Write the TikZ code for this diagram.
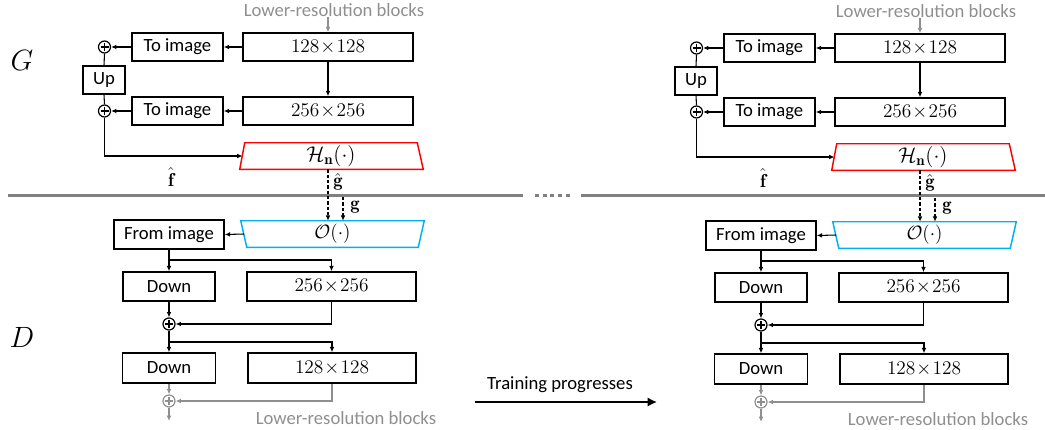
\RequirePackage{fix-cm}
\documentclass[tikz,border=0pt]{standalone}
\usepackage{fontspec}
\newfontfamily\calib{Carlito}
\usetikzlibrary{arrows.meta,calc}
\definecolor{hred}{HTML}{FF0000}
\definecolor{oblue}{HTML}{00B0F0}
\definecolor{lgray}{HTML}{8F8F8F}
\definecolor{sgray}{HTML}{808080}
\newcommand\dimtxt[2]{$#1\!\times\!#2$}
\tikzset{
  bx/.style 2 args={draw, line width=1.1pt, inner sep=0pt, minimum width=#1*0.75pt, minimum height=#2*0.75pt},
  mth/.style={font=\fontsize{14.5}{17}\selectfont},
  pl/.style={circle, draw, line width=0.9pt, minimum size=12*0.75pt, inner sep=0pt,
    path picture={\draw[line width=0.8pt] ($(path picture bounding box.center)+(-3pt,0)$) -- ($(path picture bounding box.center)+(3pt,0)$)
      ($(path picture bounding box.center)+(0,-3pt)$) -- ($(path picture bounding box.center)+(0,3pt)$);}},
  gpl/.style={circle, draw=lgray, line width=0.9pt, minimum size=12*0.75pt, inner sep=0pt,
    path picture={\draw[lgray, line width=0.8pt] ($(path picture bounding box.center)+(-3pt,0)$) -- ($(path picture bounding box.center)+(3pt,0)$)
      ($(path picture bounding box.center)+(0,-3pt)$) -- ($(path picture bounding box.center)+(0,3pt)$);}},
  ar/.style={-{Latex[length=4pt,width=3.5pt]}, line width=0.8pt},
  ln/.style={line width=0.8pt},
  gar/.style={ar, draw=lgray},
  dar/.style={ar, dash pattern=on 2.5pt off 1.5pt},
  gtext/.style={text=lgray, inner sep=0pt},
  sep/.style={draw=sgray, line width=1.6pt},
  lbl/.style={inner sep=0pt},
}
\begin{document}
\begin{tikzpicture}[x=0.75pt, y=-0.75pt, font=\calib\fontsize{14}{16}\selectfont]
\useasboundingbox (0,0) rectangle (1045,429);
% separator
\coordinate (s1) at (8,195.5);
\coordinate (s2) at (523,195.5);
\coordinate (s3) at (535,195.5);
\coordinate (s4) at (572,195.5);
\coordinate (s5) at (581,195.5);
\coordinate (s6) at (1045,195.5);
\draw[sep] (s1) -- (s2);
\draw[sep, dash pattern=on 3pt off 2.8pt] (s3) -- (s4);
\draw[sep] (s5) -- (s6);
% labels G, D
\node[lbl] (G) at (22,60) {\fontsize{22}{24}\selectfont $G$};
\node[lbl] (D) at (22,337) {\fontsize{22}{24}\selectfont $D$};
% training arrow
\node[lbl] (tp) at (560,385) {Training progresses};
\coordinate (ta) at (475,402);
\coordinate (tb) at (657,402);
\draw[line width=2.2pt, -{Latex[length=7pt,width=7pt]}] (ta) -- (tb);
\foreach \p/\sx/\sy in {L/0/0,R/592/1}{
\begin{scope}[shift={(\sx,\sy)}]
  % generator
  \node[gtext] (\p lr1) at (334,10) {Lower-resolution blocks};
  \node[bx={170}{28}, mth] (\p g128) at (328,47) {\dimtxt{128}{128}};
  \node[bx={91}{28}] (\p ti1) at (177.5,47) {To image};
  \node[pl] (\p c1) at (104.5,47) {};
  \node[bx={42}{28}] (\p up) at (104,80) {Up};
  \node[pl] (\p c2) at (104.5,111) {};
  \node[bx={91}{28}] (\p ti2) at (177.5,111) {To image};
  \node[bx={170}{28}, mth] (\p g256) at (328,111) {\dimtxt{256}{256}};
  \node[inner sep=0pt, minimum width=172*0.75pt, minimum height=26*0.75pt, font=\fontsize{16}{18}\selectfont] (\p H) at (331,156) {$\mathcal{H}_{\mathbf{n}}(\cdot)$};
  \draw[hred, line width=1.1pt] (\p H.north west) -- (\p H.north east) -- ($(\p H.south east)+(6,0)$) -- ($(\p H.south west)+(-5,0)$) -- cycle;
  \coordinate (\p Hin) at (242.5,156);
  \node[lbl] (\p fh) at (171,177) {$\hat{\mathbf{f}}$};
  \node[lbl] (\p gh) at (338,182) {$\hat{\mathbf{g}}$};
  \node[lbl] (\p g) at (355,207) {$\mathbf{g}$};
  \coordinate (\p gs) at (343,197);
  \draw[gar] (\p g128.north |- \p lr1.south) -- (\p g128.north);
  \draw[ar] (\p g128.west) -- (\p ti1.east);
  \draw[ar] (\p ti1.west) -- (\p c1.east);
  \draw[ln] (\p c1.south) -- (\p up.north);
  \draw[ln] (\p up.south) -- (\p c2.north);
  \draw[ar] (\p g128.south) -- (\p g256.north);
  \draw[ar] (\p g256.west) -- (\p ti2.east);
  \draw[ar] (\p ti2.west) -- (\p c2.east);
  \draw[ar] (\p c2.south) |- (\p Hin);
  % discriminator
  \node[inner sep=0pt, minimum width=171*0.75pt, minimum height=26*0.75pt, font=\fontsize{14.5}{17}\selectfont] (\p O) at (332.5,234) {$\mathcal{O}(\cdot)$};
  \draw[oblue, line width=1.1pt] (\p O.south west) -- (\p O.south east) -- ($(\p O.north east)+(6,0)$) -- ($(\p O.north west)+(-6,0)$) -- cycle;
  \draw[dar] (\p H.south -| \p g128.south) -- (\p O.north -| \p g128.south);
  \draw[dar] (\p gs) -- (\p gs |- \p O.north);
  \coordinate (\p Oout) at (244,234);
  \node[bx={110}{29}] (\p fi) at (169,234.5) {From image};
  \draw[ar] (\p Oout) -- (\p fi.east);
  \node[bx={92}{29}] (\p dn1) at (169,286.5) {Down};
  \node[bx={169}{29}, mth] (\p d256) at (331.5,286.5) {\dimtxt{256}{256}};
  \node[pl] (\p c3) at (169,324) {};
  \node[bx={93}{30}] (\p dn2) at (169,368) {Down};
  \node[bx={168}{30}, mth] (\p d128) at (332,368) {\dimtxt{128}{128}};
  \node[gpl] (\p c4) at (169,401) {};
  \coordinate (\p out) at (169,421);
  \node[gtext] (\p lr2) at (346,418) {Lower-resolution blocks};
  \coordinate (\p b1) at (169,260);
  \coordinate (\p b2) at (169,342);
  \draw[ar] (\p fi.south) -- (\p dn1.north);
  \draw[ar] (\p b1) -| (\p d256.north);
  \draw[ar] (\p dn1.south) -- (\p c3.north);
  \draw[ar] (\p d256.south) |- (\p c3.east);
  \draw[ar] (\p c3.south) -- (\p dn2.north);
  \draw[ar] (\p b2) -| (\p d128.north);
  \draw[gar] (\p dn2.south) -- (\p c4.north);
  \draw[gar] (\p d128.south) |- (\p c4.east);
  \draw[gar] (\p c4.south) -- (\p out);
\end{scope}}
\end{tikzpicture}
\end{document}
